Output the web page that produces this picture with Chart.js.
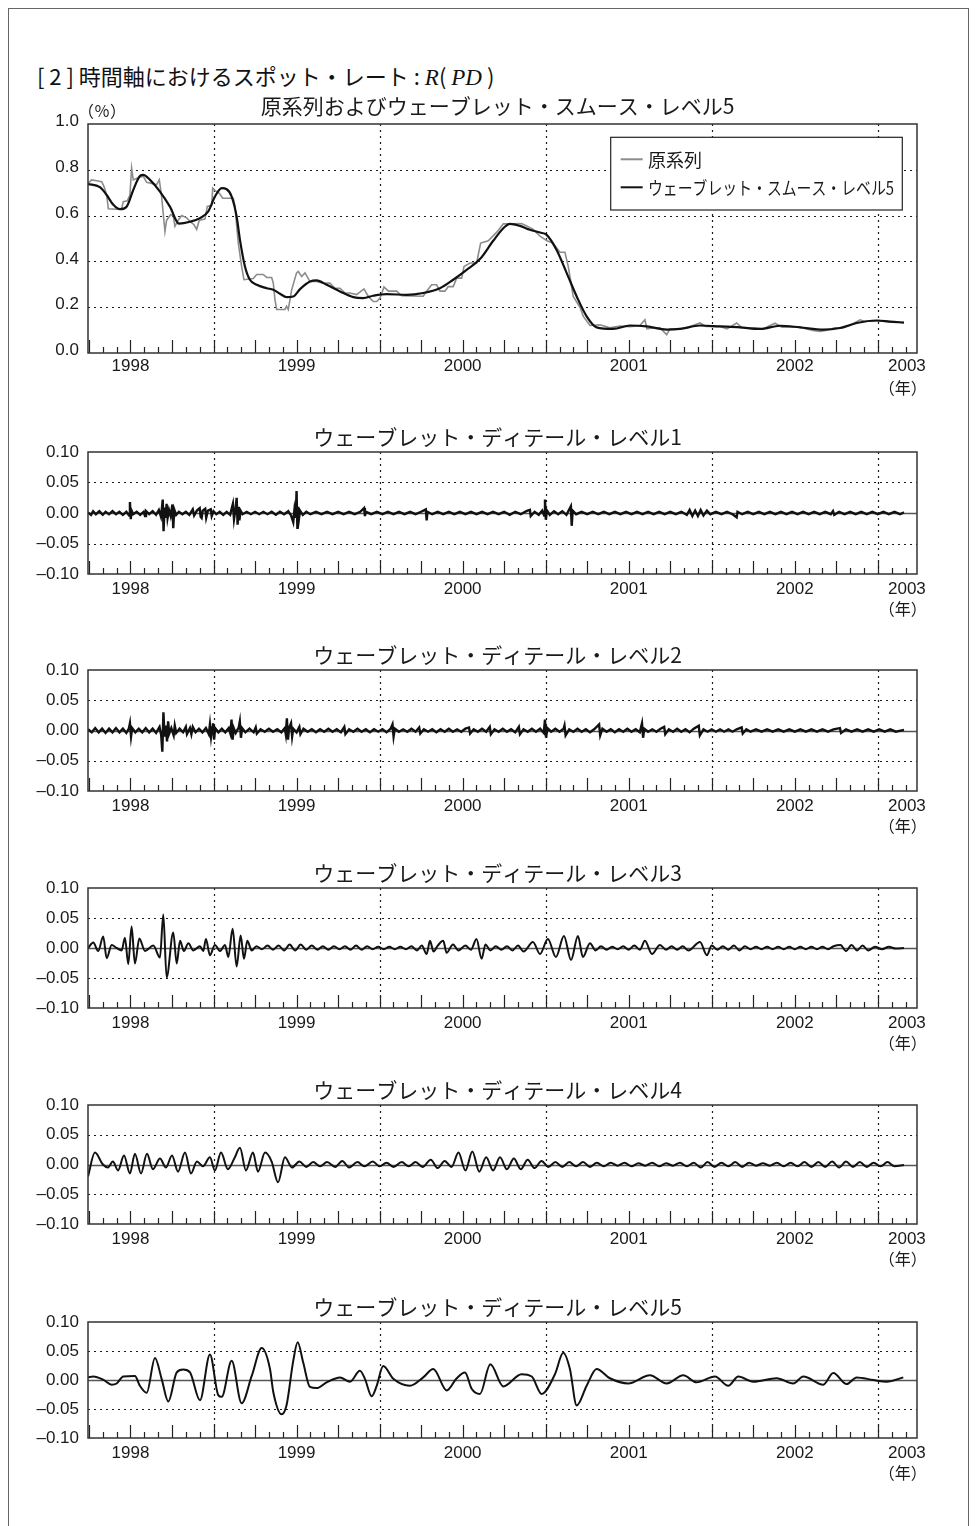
<!DOCTYPE html>
<html><head><meta charset="utf-8">
<script src="https://cdn.jsdelivr.net/npm/chart.js@4.4.1/dist/chart.umd.min.js"></script>
<style>
body{margin:0;background:#fff;width:976px;height:1526px;position:relative;overflow:hidden;}
#frame{position:absolute;left:8px;top:8px;width:961px;height:1600px;border:1.5px solid #666;box-sizing:border-box;}
#heading{position:absolute;left:37px;top:60px;height:30px;line-height:30px;font-size:22px;font-family:"Noto Sans CJK JP",sans-serif;color:#111;white-space:nowrap;}
#heading i{font-family:"Liberation Serif",serif;font-style:italic;font-size:23px;}
canvas{position:absolute;left:0;}
</style></head>
<body>
<div id="frame"></div>
<div id="heading">[ 2 ] 時間軸におけるスポット・レート : <i>R</i>( <i>PD</i> )</div>
<canvas id="c0"></canvas><canvas id="c1"></canvas><canvas id="c2"></canvas>
<canvas id="c3"></canvas><canvas id="c4"></canvas><canvas id="c5"></canvas>
<script>
// ---------- DATA (x = months from April 1998) ----------
const yearLabels = ['1998','1999','2000','2001','2002','2003'];
const yearLabelMonths = [3, 15, 27, 39, 51, 59.1];
const januaryMonths = [9, 21, 33, 45, 57];
const panelTitles = ['原系列およびウェーブレット・スムース・レベル5','ウェーブレット・ディテール・レベル1','ウェーブレット・ディテール・レベル2','ウェーブレット・ディテール・レベル3','ウェーブレット・ディテール・レベル4','ウェーブレット・ディテール・レベル5'];
const seriesNames = ['原系列','ウェーブレット・スムース・レベル5'];
const topYTicks = [0,0.2,0.4,0.6,0.8,1.0];
const topYLabels = ['0.0','0.2','0.4','0.6','0.8','1.0'];
const topGrid = [0.2,0.4,0.6,0.8];
const detYTicks = [-0.1,-0.05,0,0.05,0.1];
const detYLabels = ['\u20130.10','\u20130.05','0.00','0.05','0.10'];
const detGrid = [-0.05,0.05];

const rawSeries = [[-0.07,0.74],[0.19,0.756],[0.55,0.752],[0.92,0.748],[1.08,0.728],[1.28,0.69],[1.4,0.63],[2.0,0.628],[2.36,0.63],[2.48,0.661],[2.77,0.665],[2.96,0.69],[3.08,0.807],[3.2,0.756],[3.56,0.765],[3.92,0.772],[4.17,0.745],[4.53,0.74],[4.89,0.735],[5.08,0.756],[5.25,0.683],[5.49,0.53],[5.61,0.58],[5.9,0.604],[6.09,0.6],[6.21,0.553],[6.45,0.58],[6.7,0.6],[7.06,0.59],[7.3,0.575],[7.59,0.56],[7.78,0.54],[7.97,0.58],[8.38,0.585],[8.55,0.64],[8.87,0.645],[8.94,0.72],[9.1,0.71],[9.42,0.697],[9.66,0.676],[10.43,0.676],[10.55,0.64],[10.79,0.48],[11.03,0.378],[11.2,0.32],[11.87,0.325],[12.12,0.343],[12.59,0.343],[12.84,0.33],[13.2,0.33],[13.32,0.305],[13.44,0.232],[13.56,0.19],[14.16,0.19],[14.28,0.204],[14.4,0.19],[14.65,0.277],[15.0,0.35],[15.12,0.356],[15.37,0.334],[15.61,0.35],[15.97,0.312],[16.45,0.312],[16.93,0.305],[17.41,0.305],[17.77,0.283],[18.14,0.283],[18.5,0.262],[18.86,0.262],[19.34,0.255],[19.87,0.28],[20.18,0.247],[20.54,0.225],[20.79,0.225],[21.03,0.24],[21.32,0.288],[21.63,0.27],[22.23,0.27],[22.59,0.25],[24.15,0.248],[24.4,0.27],[24.76,0.298],[25.12,0.298],[25.36,0.27],[25.72,0.27],[25.96,0.29],[26.32,0.29],[26.57,0.327],[26.93,0.327],[27.1,0.378],[27.53,0.393],[28.01,0.393],[28.3,0.48],[28.85,0.49],[29.5,0.53],[29.94,0.564],[30.66,0.564],[31.26,0.565],[31.63,0.555],[32.1,0.54],[32.59,0.51],[33.09,0.49],[33.53,0.48],[34.03,0.44],[34.39,0.44],[34.63,0.378],[34.99,0.247],[35.48,0.2],[35.72,0.16],[36.2,0.12],[36.92,0.123],[37.64,0.11],[38.37,0.118],[39.09,0.115],[39.81,0.12],[40.17,0.145],[40.32,0.105],[40.9,0.11],[41.26,0.11],[41.74,0.08],[41.98,0.105],[42.7,0.105],[43.2,0.11],[44.15,0.131],[44.58,0.116],[45.59,0.116],[46.1,0.105],[46.8,0.131],[47.18,0.11],[48.12,0.11],[48.7,0.105],[49.57,0.13],[50.07,0.113],[51.37,0.113],[52.31,0.098],[52.82,0.094],[53.32,0.1],[53.9,0.11],[54.41,0.108],[54.99,0.12],[55.71,0.145],[56.07,0.138],[57.15,0.142],[57.88,0.135],[58.89,0.133]];

const smoothSeries = [[-0.07,0.738],[0.79,0.724],[1.28,0.69],[1.76,0.647],[2.24,0.628],[2.72,0.639],[3.2,0.712],[3.68,0.773],[3.92,0.778],[4.41,0.756],[5.13,0.705],[5.85,0.639],[6.5,0.565],[7.3,0.573],[8.02,0.589],[8.62,0.618],[9.1,0.683],[9.59,0.72],[9.95,0.715],[10.31,0.683],[10.67,0.596],[10.91,0.494],[11.27,0.378],[11.63,0.32],[12.12,0.298],[12.84,0.283],[13.32,0.276],[13.8,0.259],[14.28,0.244],[14.76,0.247],[15.25,0.279],[15.97,0.312],[16.45,0.317],[17.17,0.298],[18.14,0.269],[19.1,0.244],[19.82,0.24],[20.54,0.25],[21.51,0.257],[22.96,0.254],[24.15,0.262],[25.36,0.283],[26.32,0.32],[27.29,0.363],[28.25,0.41],[29.21,0.49],[29.94,0.545],[30.42,0.564],[31.14,0.555],[31.86,0.538],[32.59,0.526],[33.07,0.516],[33.79,0.45],[34.52,0.349],[35.24,0.247],[35.96,0.16],[36.68,0.112],[37.88,0.105],[39.09,0.12],[40.3,0.116],[41.74,0.102],[42.7,0.105],[44.15,0.12],[45.59,0.116],[47.04,0.112],[48.48,0.105],[49.93,0.119],[51.37,0.112],[53.06,0.102],[54.26,0.109],[55.47,0.131],[56.91,0.142],[57.88,0.137],[58.89,0.133]];

const detail1 = [[-0.07,0.001],[0.15,-0.003],[0.3,0.003],[0.5,-0.002],[0.75,0.003],[1.0,-0.003],[1.2,0.002],[1.45,-0.002],[1.7,0.003],[1.95,-0.002],[2.2,0.002],[2.45,-0.003],[2.7,0.002],[2.9,-0.004],[2.96,0.018],[3.02,-0.010],[3.08,0.004],[3.2,-0.002],[3.45,0.002],[3.7,-0.003],[3.95,0.002],[4.05,-0.005],[4.12,0.003],[4.35,-0.002],[4.6,0.003],[4.85,-0.003],[5.05,0.005],[5.2,-0.006],[5.27,0.008],[5.33,0.022],[5.39,-0.030],[5.46,0.009],[5.53,-0.008],[5.61,0.015],[5.68,-0.008],[5.78,0.005],[5.9,-0.005],[6.03,0.014],[6.09,-0.025],[6.16,0.006],[6.3,-0.003],[6.5,0.002],[6.75,-0.002],[7.0,0.002],[7.25,-0.003],[7.5,0.006],[7.6,-0.004],[7.8,0.004],[8.0,0.008],[8.07,-0.006],[8.14,-0.008],[8.22,0.004],[8.4,0.007],[8.47,-0.008],[8.6,0.004],[8.8,0.006],[8.87,-0.005],[9.0,0.003],[9.2,-0.002],[9.45,0.002],[9.7,-0.003],[9.95,0.002],[10.2,-0.003],[10.4,0.015],[10.48,-0.010],[10.6,0.008],[10.67,0.025],[10.74,-0.019],[10.8,0.010],[10.87,-0.012],[10.95,0.004],[11.1,-0.002],[11.4,0.002],[11.7,-0.002],[12.0,0.002],[12.3,-0.002],[12.6,0.002],[12.9,-0.002],[13.2,0.002],[13.5,-0.003],[13.8,0.002],[14.1,-0.002],[14.4,0.003],[14.6,-0.004],[14.76,-0.015],[14.85,0.006],[14.94,-0.008],[15.0,0.036],[15.06,-0.026],[15.12,0.010],[15.18,-0.008],[15.25,0.004],[15.45,-0.003],[15.7,0.002],[16.0,-0.002],[16.4,0.002],[16.8,-0.002],[17.2,0.002],[17.6,-0.002],[18.0,0.002],[18.4,-0.002],[18.8,0.002],[19.2,-0.002],[19.6,0.002],[19.88,0.008],[19.94,-0.005],[20.0,0.002],[20.4,-0.002],[20.8,0.002],[21.2,-0.002],[21.6,0.002],[22.0,-0.002],[22.4,0.002],[22.8,-0.002],[23.2,0.002],[23.6,-0.002],[24.0,0.002],[24.34,0.006],[24.4,-0.012],[24.46,0.002],[24.8,-0.002],[25.2,0.002],[25.6,-0.002],[26.0,0.002],[26.4,-0.002],[26.8,0.002],[27.2,-0.002],[27.6,0.002],[28.0,-0.002],[28.4,0.002],[28.8,-0.002],[29.2,0.002],[29.6,-0.002],[30.0,0.002],[30.4,-0.003],[30.8,0.002],[31.2,-0.002],[31.6,0.003],[31.86,0.005],[31.92,-0.005],[32.2,0.002],[32.5,-0.003],[32.75,0.004],[32.89,-0.004],[32.95,0.022],[33.01,-0.011],[33.1,0.004],[33.3,-0.003],[33.6,0.003],[33.9,-0.002],[34.2,0.003],[34.5,-0.003],[34.82,0.011],[34.88,-0.021],[34.95,0.004],[35.2,-0.002],[35.6,0.002],[36.0,-0.002],[36.4,0.002],[36.8,-0.002],[37.2,0.002],[37.6,-0.002],[38.0,0.002],[38.4,-0.002],[38.8,0.002],[39.2,-0.002],[39.6,0.002],[40.0,-0.002],[40.4,0.002],[40.8,-0.002],[41.2,0.002],[41.6,-0.002],[42.0,0.002],[42.4,-0.002],[42.8,0.002],[43.2,-0.003],[43.4,0.005],[43.6,-0.005],[43.8,0.004],[44.0,-0.005],[44.2,0.005],[44.4,-0.004],[44.65,0.004],[44.9,-0.002],[45.3,0.002],[45.7,-0.002],[46.1,0.002],[46.5,-0.002],[46.8,-0.007],[46.86,0.002],[47.2,-0.002],[47.6,0.002],[48.0,-0.002],[48.4,0.002],[48.8,-0.002],[49.2,0.002],[49.6,-0.002],[50.0,0.002],[50.4,-0.002],[50.8,0.002],[51.2,-0.002],[51.6,0.002],[52.0,-0.002],[52.4,0.002],[52.8,-0.002],[53.2,0.002],[53.6,-0.002],[53.76,0.003],[53.85,-0.003],[54.2,0.002],[54.6,-0.002],[55.0,0.002],[55.4,-0.002],[55.8,0.002],[56.2,-0.002],[56.6,0.002],[57.0,-0.002],[57.4,0.002],[57.8,-0.002],[58.2,0.002],[58.6,-0.002],[58.89,0.001]];

const detail2 = [[-0.07,0.002],[0.2,-0.003],[0.45,0.004],[0.7,-0.003],[0.95,0.003],[1.2,-0.004],[1.45,0.003],[1.7,-0.003],[1.95,0.004],[2.2,-0.003],[2.45,0.003],[2.7,-0.004],[2.88,0.003],[2.96,0.012],[3.04,-0.010],[3.12,0.004],[3.35,-0.003],[3.6,0.003],[3.85,-0.003],[4.1,0.004],[4.35,-0.003],[4.6,0.003],[4.85,-0.004],[5.1,0.006],[5.22,-0.008],[5.3,-0.035],[5.38,0.030],[5.46,-0.010],[5.55,0.008],[5.64,-0.018],[5.72,0.015],[5.8,-0.005],[5.95,0.004],[6.12,-0.008],[6.2,0.008],[6.3,-0.004],[6.55,0.003],[6.8,-0.003],[7.0,0.006],[7.08,-0.006],[7.3,0.004],[7.4,-0.006],[7.5,0.006],[7.7,-0.003],[7.95,0.003],[8.2,-0.003],[8.45,0.004],[8.66,-0.006],[8.74,0.010],[8.82,-0.010],[8.9,0.005],[8.96,0.012],[9.04,-0.015],[9.12,0.004],[9.35,-0.003],[9.6,0.003],[9.85,-0.003],[10.1,0.004],[10.22,-0.005],[10.3,0.018],[10.38,-0.015],[10.46,0.004],[10.6,-0.004],[10.82,0.005],[10.9,0.015],[10.98,-0.012],[11.06,0.004],[11.3,-0.003],[11.6,0.003],[11.9,-0.003],[12.05,0.005],[12.13,-0.005],[12.4,0.002],[12.7,-0.002],[13.0,0.003],[13.3,-0.002],[13.6,0.002],[13.9,-0.003],[14.15,0.004],[14.22,-0.006],[14.3,0.020],[14.38,-0.015],[14.46,0.004],[14.6,0.012],[14.68,-0.010],[14.76,0.003],[15.0,-0.003],[15.2,0.006],[15.28,-0.006],[15.5,0.003],[15.8,-0.002],[16.1,0.002],[16.4,-0.003],[16.7,0.002],[17.0,-0.002],[17.3,0.003],[17.6,-0.002],[17.9,0.002],[18.2,-0.003],[18.45,0.006],[18.53,-0.006],[18.8,0.002],[19.1,-0.002],[19.4,0.003],[19.7,-0.002],[20.0,0.002],[20.3,-0.003],[20.6,0.002],[20.9,-0.002],[21.2,0.002],[21.5,-0.003],[21.8,0.003],[21.93,0.010],[22.01,-0.010],[22.1,0.003],[22.4,-0.002],[22.7,0.002],[23.0,-0.002],[23.3,0.003],[23.6,-0.002],[23.86,0.005],[23.94,-0.005],[24.2,0.002],[24.5,-0.002],[24.8,0.002],[25.1,-0.003],[25.4,0.002],[25.7,-0.002],[26.0,0.003],[26.3,-0.002],[26.6,0.002],[26.9,-0.002],[27.2,0.003],[27.46,0.005],[27.54,-0.005],[27.8,0.002],[28.1,-0.002],[28.4,0.003],[28.7,-0.002],[28.96,0.006],[29.04,-0.006],[29.3,0.002],[29.6,-0.002],[29.9,0.003],[30.2,-0.002],[30.5,0.002],[30.8,-0.003],[31.06,0.006],[31.14,-0.006],[31.4,0.002],[31.7,-0.002],[32.0,0.003],[32.3,-0.002],[32.6,0.003],[32.86,-0.004],[32.95,0.018],[33.03,-0.012],[33.12,0.004],[33.4,-0.002],[33.7,0.003],[34.0,-0.002],[34.3,0.003],[34.36,0.008],[34.44,-0.008],[34.7,0.002],[35.0,-0.002],[35.3,0.003],[35.6,-0.002],[35.9,0.002],[36.2,-0.003],[36.5,0.002],[36.86,0.010],[36.94,-0.008],[37.1,0.003],[37.4,-0.002],[37.7,0.002],[38.0,-0.003],[38.3,0.002],[38.6,-0.002],[38.9,0.003],[39.2,-0.002],[39.5,0.002],[39.8,-0.003],[39.96,0.012],[40.04,-0.012],[40.12,0.003],[40.4,-0.002],[40.7,0.002],[41.0,-0.002],[41.3,0.003],[41.56,0.006],[41.64,-0.006],[41.9,0.002],[42.2,-0.002],[42.5,0.003],[42.8,-0.002],[43.1,0.002],[43.4,-0.003],[43.7,0.003],[44.06,0.008],[44.14,-0.008],[44.4,0.002],[44.7,-0.002],[45.0,0.002],[45.3,-0.002],[45.6,0.002],[45.9,-0.002],[46.2,0.002],[46.5,-0.002],[46.8,0.002],[47.16,0.005],[47.24,-0.005],[47.5,0.002],[47.8,-0.002],[48.2,0.002],[48.6,-0.002],[49.0,0.002],[49.4,-0.002],[49.8,0.002],[50.2,-0.002],[50.6,0.002],[51.0,-0.002],[51.4,0.002],[51.8,-0.002],[52.2,0.002],[52.6,-0.002],[53.0,0.002],[53.4,-0.002],[53.8,0.002],[54.26,0.004],[54.34,-0.004],[54.7,0.002],[55.1,-0.002],[55.5,0.002],[55.9,-0.002],[56.3,0.002],[56.7,-0.002],[57.1,0.002],[57.5,-0.002],[57.9,0.002],[58.3,-0.002],[58.89,0.001]];

const detail3 = [[-0.07,0],[0.31,0.009],[0.67,-0.005],[1.03,0.019],[1.28,-0.017],[1.64,0.005],[2.0,0],[2.36,-0.004],[2.6,0.017],[2.84,-0.027],[3.08,0.036],[3.32,-0.026],[3.64,0.016],[4.05,-0.005],[4.65,0.004],[5.13,-0.016],[5.37,0.056],[5.61,-0.049],[6.09,0.026],[6.34,-0.026],[6.58,0.012],[6.86,-0.005],[7.18,0.008],[7.54,-0.004],[8.02,0.003],[8.26,-0.005],[8.45,0.015],[8.74,-0.012],[9.1,0.005],[9.47,-0.005],[9.83,0.005],[10.07,-0.015],[10.38,0.032],[10.67,-0.031],[10.96,0.021],[11.2,-0.018],[11.44,0.012],[11.76,-0.004],[12.1,0.003],[12.5,-0.002],[12.9,0.004],[13.3,-0.003],[13.7,0.004],[14.1,-0.004],[14.5,0.006],[14.9,-0.004],[15.3,0.006],[15.7,-0.003],[16.1,0.004],[16.5,-0.003],[16.9,0.003],[17.3,-0.003],[17.7,0.003],[18.1,-0.002],[18.5,0.003],[18.9,-0.003],[19.3,0.004],[19.7,-0.003],[20.1,0.003],[20.5,-0.002],[20.9,0.002],[21.3,-0.002],[21.7,0.002],[22.1,-0.002],[22.5,0.002],[22.9,-0.002],[23.3,0.003],[23.7,-0.004],[24.05,0.004],[24.4,-0.010],[24.64,0.012],[24.9,-0.006],[25.2,0.004],[25.6,0.012],[25.84,-0.008],[26.3,0.006],[26.7,-0.004],[27.2,0.004],[27.6,-0.003],[28.0,0.015],[28.37,-0.018],[28.65,0.006],[29.0,-0.004],[29.4,0.003],[29.8,-0.003],[30.2,0.003],[30.6,-0.004],[31.0,0.004],[31.4,-0.006],[32.08,0.01],[32.59,-0.01],[33.16,0.015],[33.74,-0.015],[34.32,0.02],[34.83,-0.02],[35.33,0.02],[35.69,-0.015],[36.2,0.008],[36.6,-0.004],[37.0,0.003],[37.4,-0.003],[37.8,0.002],[38.2,-0.002],[38.6,0.003],[39.0,-0.003],[39.4,0.004],[39.8,-0.003],[40.17,0.012],[40.68,-0.01],[41.26,0.005],[41.7,-0.003],[42.1,0.003],[42.5,-0.003],[42.9,0.003],[43.3,-0.004],[44.15,0.01],[44.65,-0.012],[45.0,0.004],[45.4,-0.003],[45.8,0.003],[46.2,-0.003],[46.6,0.004],[47.0,-0.004],[47.4,0.003],[47.8,-0.002],[48.2,0.002],[48.6,-0.002],[49.0,0.002],[49.4,-0.002],[49.8,0.002],[50.2,-0.002],[50.6,0.002],[51.0,-0.002],[51.4,0.002],[51.8,-0.002],[52.2,0.002],[52.6,-0.002],[53.0,0.002],[53.4,-0.002],[53.8,0.003],[54.3,0.005],[54.7,-0.005],[55.1,0.005],[55.5,-0.004],[55.9,0.004],[56.3,-0.004],[56.8,0.002],[57.3,-0.002],[57.8,0.002],[58.3,-0.001],[58.89,0]];

const detail4 = [[-0.07,-0.02],[0.43,0.02],[1.01,0],[1.37,-0.005],[1.73,0.005],[2.1,-0.01],[2.53,0.015],[2.96,-0.015],[3.32,0.018],[3.76,-0.015],[4.19,0.018],[4.62,-0.008],[5.13,0.01],[5.56,-0.005],[6.0,0.015],[6.43,-0.012],[6.94,0.02],[7.37,-0.015],[7.8,0.005],[8.24,-0.003],[8.74,0.012],[9.1,-0.01],[9.54,0.02],[10.04,-0.008],[10.5,0.01],[10.91,0.028],[11.34,-0.01],[11.85,0.02],[12.21,-0.012],[12.72,0.02],[13.2,0.005],[13.66,-0.03],[14.16,0.012],[14.67,-0.005],[15.2,0.005],[15.7,-0.004],[16.2,0.004],[16.7,-0.003],[17.2,0.004],[17.8,-0.004],[18.3,0.006],[18.8,-0.005],[19.4,0.004],[19.9,-0.003],[20.5,0.005],[21.0,-0.003],[21.5,0.003],[22.0,-0.004],[22.6,0.004],[23.1,-0.003],[23.6,0.004],[24.1,-0.004],[24.7,0.008],[25.2,-0.006],[25.7,0.006],[26.2,-0.004],[26.7,0.02],[27.2,-0.01],[27.7,0.022],[28.2,-0.012],[28.7,0.012],[29.2,-0.01],[29.7,0.012],[30.2,-0.008],[30.7,0.01],[31.2,-0.008],[31.7,0.008],[32.2,-0.006],[32.7,0.006],[33.2,-0.004],[33.7,0.004],[34.2,-0.004],[34.7,0.004],[35.2,-0.003],[35.7,0.004],[36.2,-0.004],[36.7,0.003],[37.2,-0.003],[37.7,0.003],[38.2,-0.002],[38.7,0.003],[39.2,-0.003],[39.7,0.002],[40.2,-0.002],[40.7,0.003],[41.2,-0.003],[41.7,0.002],[42.2,-0.002],[42.7,0.003],[43.2,-0.003],[43.7,0.003],[44.2,-0.005],[44.7,0.004],[45.2,-0.004],[45.7,0.003],[46.2,-0.003],[46.7,0.004],[47.2,-0.004],[47.7,0.003],[48.2,-0.002],[48.7,0.002],[49.2,-0.002],[49.7,0.003],[50.2,-0.003],[50.7,0.003],[51.2,-0.003],[51.7,0.004],[52.2,-0.004],[52.7,0.004],[53.2,-0.004],[53.7,0.005],[54.2,-0.005],[54.7,0.005],[55.2,-0.004],[55.7,0.004],[56.2,-0.004],[56.7,0.003],[57.2,-0.003],[57.7,0.004],[58.2,-0.003],[58.89,-0.001]];

const detail5 = [[-0.07,0.0045],[0.31,0.006],[1.03,0.0006],[1.64,-0.008],[2.0,-0.006],[2.48,0.006],[3.32,0.007],[3.68,-0.01],[4.17,-0.022],[4.77,0.038],[5.25,0.002],[5.73,-0.037],[6.34,0.013],[6.81,0.018],[7.3,0.013],[8.02,-0.035],[8.74,0.044],[9.34,-0.026],[9.59,-0.029],[10.31,0.033],[11.03,-0.040],[11.76,0.007],[12.48,0.055],[13.08,0.019],[13.32,-0.021],[13.92,-0.059],[14.28,-0.043],[14.76,0.033],[15.08,0.065],[15.48,0.030],[15.97,-0.012],[16.45,-0.014],[17.17,-0.004],[18.14,0.0045],[18.86,-0.003],[19.58,0.016],[19.94,0.002],[20.43,-0.028],[20.79,-0.01],[21.26,0.024],[21.99,0.002],[23.19,-0.01],[24.15,0.0045],[24.88,0.019],[25.85,-0.018],[26.57,0.003],[27.17,0.013],[27.65,-0.015],[28.25,-0.024],[29.0,0.027],[29.94,-0.011],[31.26,0.010],[31.99,0.006],[32.71,-0.024],[33.67,0.010],[34.27,0.047],[34.75,0.019],[35.24,-0.044],[35.96,-0.010],[36.68,0.019],[37.64,0.003],[38.97,-0.006],[40.53,0.008],[41.74,-0.006],[42.94,0.008],[43.9,-0.004],[45.23,0.006],[46.19,-0.010],[46.92,0.006],[48.0,-0.003],[49.69,0.003],[50.89,-0.006],[51.61,0.006],[53.06,-0.008],[53.78,0.012],[54.75,-0.007],[55.47,0.0045],[56.67,0],[57.64,-0.003],[58.84,0.0045]];

// ---------- LAYOUT ----------
const X_MIN = -0.07, X_MAX = 59.83;
const SANS = '"Liberation Sans", Arial, "Noto Sans CJK JP", sans-serif';
const CJK = '"Noto Sans CJK JP", sans-serif';
const PAD_TOP = 44, AXIS_H = 56;

function pts(a){ return a.map(p => ({x:p[0], y:p[1]})); }
function blackLine(label, arr, smooth, w){
  return {label, data:pts(arr), borderColor:'#111', borderWidth:w, pointRadius:0,
    tension: smooth ? 0.4 : 0, cubicInterpolationMode: smooth ? 'monotone' : 'default'};
}

const panels = [
  {top:124, bottom:353, legend:true,
   datasets:[
     {label:seriesNames[0], data:pts(rawSeries), borderColor:'#8c8c8c', borderWidth:1.6, pointRadius:0, tension:0, order:1},
     {label:seriesNames[1], data:pts(smoothSeries), borderColor:'#111', borderWidth:2.2, pointRadius:0, tension:0.4, cubicInterpolationMode:'monotone', order:0}
   ]},
  {top:452, bottom:574, datasets:[blackLine('D1', detail1, false, 2.4)]},
  {top:670, bottom:791, datasets:[blackLine('D2', detail2, false, 2.4)]},
  {top:888, bottom:1008, datasets:[blackLine('D3', detail3, true, 2)]},
  {top:1105, bottom:1224, datasets:[blackLine('D4', detail4, true, 2)]},
  {top:1322, bottom:1438, datasets:[blackLine('D5', detail5, true, 2)]}
];

const deco = {
  id:'deco',
  beforeDatasetsDraw(chart, args, o){
    const {ctx, chartArea:a, scales:{x, y}} = chart;
    ctx.save();
    ctx.strokeStyle = '#1a1a1a'; ctx.lineWidth = 1.2; ctx.setLineDash([2,4]);
    o.grid.forEach(v => {
      const py = Math.round(y.getPixelForValue(v)) + 0.5;
      ctx.beginPath(); ctx.moveTo(a.left, py); ctx.lineTo(a.right, py); ctx.stroke();
    });
    januaryMonths.forEach(m => {
      const px = Math.round(x.getPixelForValue(m)) + 0.5;
      ctx.beginPath(); ctx.moveTo(px, a.top); ctx.lineTo(px, a.bottom); ctx.stroke();
    });
    ctx.setLineDash([]);
    if (o.zero){
      const py = Math.round(y.getPixelForValue(0)) + 0.5;
      ctx.strokeStyle = '#555'; ctx.lineWidth = 1.4;
      ctx.beginPath(); ctx.moveTo(a.left, py); ctx.lineTo(a.right, py); ctx.stroke();
    }
    ctx.restore();
  },
  afterDatasetsDraw(chart, args, o){
    const {ctx, chartArea:a, scales:{x}} = chart;
    ctx.save();
    ctx.strokeStyle = '#222'; ctx.lineWidth = 1.2;
    for (let m = 0; m <= 59; m++){
      const px = Math.round(x.getPixelForValue(m)) + 0.5;
      const len = (m % 3 === 0) ? 13 : 6;
      ctx.beginPath(); ctx.moveTo(px, a.bottom); ctx.lineTo(px, a.bottom - len); ctx.stroke();
    }
    ctx.strokeStyle = '#333'; ctx.lineWidth = 1.5;
    ctx.strokeRect(a.left, a.top, a.right - a.left, a.bottom - a.top);
    ctx.fillStyle = '#1a1a1a'; ctx.textAlign = 'center'; ctx.textBaseline = 'middle';
    ctx.font = '21px ' + CJK;
    ctx.fillText(o.title, (a.left + a.right)/2 - 5, a.top - o.titleGap);
    ctx.font = '16px ' + CJK;
    ctx.fillText('（年）', x.getPixelForValue(58.8), a.bottom + 35);
    if (o.legend){
      ctx.font = '16px ' + CJK;
      ctx.fillText('（％）', a.left + 14, a.top - 13);
      const bx = a.right - 14.7 - 291.6, by = a.top + 13.3, bw = 291.6, bh = 72.7;
      ctx.fillStyle = '#fff'; ctx.fillRect(bx, by, bw, bh);
      ctx.strokeStyle = '#222'; ctx.lineWidth = 1.2; ctx.strokeRect(bx, by, bw, bh);
      const ds = chart.data.datasets;
      const rows = [by + 22, by + 50];
      ds.forEach((d, i) => {
        ctx.strokeStyle = d.borderColor; ctx.lineWidth = 2;
        ctx.beginPath(); ctx.moveTo(bx + 10, rows[i]); ctx.lineTo(bx + 32, rows[i]); ctx.stroke();
        ctx.fillStyle = '#1a1a1a'; ctx.textAlign = 'left'; ctx.font = '18px ' + CJK;
        ctx.fillText(d.label, bx + 37.3, rows[i] + 0.5, i === 1 ? 246 : 60);
      });
    }
    ctx.restore();
  }
};

panels.forEach((p, i) => {
  const cv = document.getElementById('c' + i);
  const h = p.bottom - p.top + PAD_TOP + AXIS_H;
  cv.width = 976; cv.height = h;
  cv.style.width = '976px'; cv.style.height = h + 'px';
  cv.style.top = (p.top - PAD_TOP) + 'px';
  const isTop = i === 0;
  new Chart(cv, {
    type:'line',
    data:{datasets:p.datasets},
    options:{
      responsive:false, animation:false, devicePixelRatio:1,
      layout:{padding:{top:PAD_TOP, left:0, right:59, bottom:0}},
      plugins:{legend:{display:false}, tooltip:{enabled:false}, title:{display:false},
        deco:{grid: isTop ? topGrid : detGrid, zero: !isTop, title: panelTitles[i], titleGap: isTop ? 18 : 15, legend: !!p.legend}},
      scales:{
        x:{type:'linear', min:X_MIN, max:X_MAX,
          grid:{display:false, drawTicks:false}, border:{display:false},
          afterBuildTicks: s => { s.ticks = yearLabelMonths.map(v => ({value:v})); },
          afterFit: s => { s.height = AXIS_H; },
          ticks:{autoSkip:false, maxRotation:0, minRotation:0, padding: isTop ? 3 : 5, color:'#1a1a1a',
            font:{family:SANS, size:17}, callback:(v, k) => yearLabels[k]}},
        y:{type:'linear', min: isTop ? 0 : -0.1, max: isTop ? 1 : 0.1,
          grid:{display:false, drawTicks:false}, border:{display:false},
          afterBuildTicks: s => { s.ticks = (isTop ? topYTicks : detYTicks).map(v => ({value:v})); },
          afterFit: s => { s.width = 88; },
          ticks:{padding:9, labelOffset: isTop ? -2.5 : 0, color:'#1a1a1a', font:{family:SANS, size:17},
            callback:(v, k) => (isTop ? topYLabels : detYLabels)[k]}}
      }
    },
    plugins:[deco]
  });
});
</script>
</body></html>
